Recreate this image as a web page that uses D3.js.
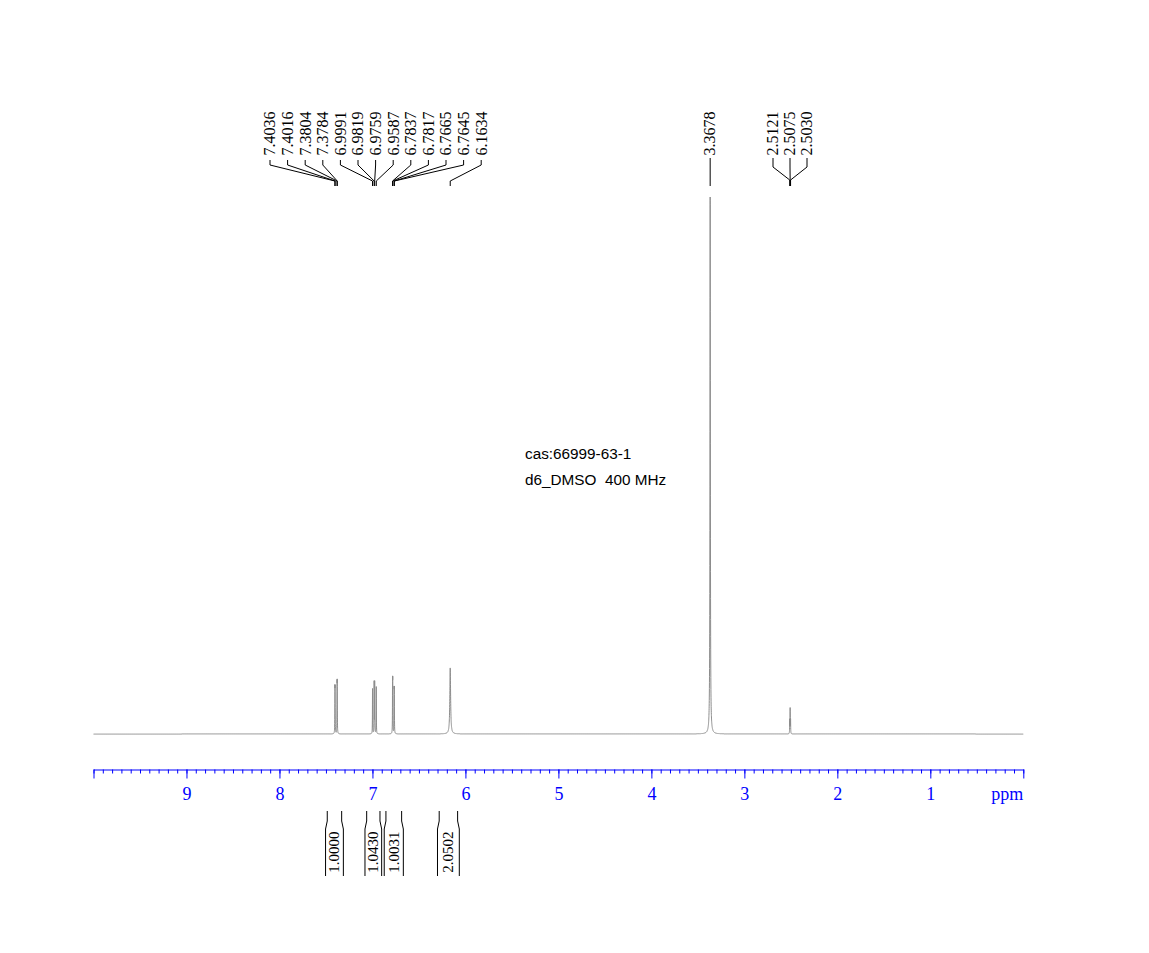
<!DOCTYPE html>
<html><head><meta charset="utf-8">
<script src="https://cdn.jsdelivr.net/npm/d3@7"></script>
<style>body{margin:0;background:#fff}svg{display:block}</style>
</head><body>
<svg id="c" width="1149" height="953"></svg>
<script>
// ---- data ----
const axisDomain = [10, 0];
const majorTicks = [0,1,2,3,4,5,6,7,8,9,10];
const tickLabels = ["","1","2","3","4","5","6","7","8","9",""];
// peak lines: ppm, intensity (% of tallest), half width (ppm)
const peakPpm = [7.4036, 7.4016, 7.3804, 7.3784, 6.9991, 6.9819, 6.9759, 6.9587, 6.7837, 6.7817, 6.7665, 6.7645, 6.1634, 3.3678, 2.5121, 2.5075, 2.5030];
const peakInt = [7.2, 7.2, 8.0, 8.0, 8.4, 9.5, 9.5, 8.75, 8.4, 8.4, 7.0, 7.0, 12.3, 100, 2.5, 4.6, 2.5];
const peakHw  = [0.0012,0.0012,0.0012,0.0012,0.0012,0.0012,0.0012,0.0012,0.0012,0.0012,0.0012,0.0012,0.005,0.0025,0.0012,0.0012,0.0012];
const leftLabels = ["7.4036","7.4016","7.3804","7.3784","6.9991","6.9819","6.9759","6.9587","6.7837","6.7817","6.7665","6.7645","6.1634"];
const rightLabels = ["2.5121","2.5075","2.5030"];
const soloLabel = "3.3678";
const integFrom = [7.486, 7.062, 6.855, 6.282];
const integTo   = [7.331, 6.919, 6.686, 6.084];
const integVal  = ["1.0000","1.0430","1.0031","2.0502"];
const infoLines = ["cas:66999-63-1", "d6_DMSO  400 MHz"];

// ---- scales ----
const svg = d3.select("#c");
const x = d3.scaleLinear().domain(axisDomain).range([93.5, 1023.3]);
const y = d3.scaleLinear().domain([0, 100]).range([734, 197]);

// spectrum samples
const pts = [];
const grid = d3.range(10, -0.00001, -0.0005).concat(peakPpm);
grid.sort((a,b)=>b-a);
grid.forEach(p => {
  let s = 0;
  for (let i = 0; i < peakPpm.length; i++) {
    const d = (p - peakPpm[i]) / peakHw[i];
    s += peakInt[i] / (1 + d*d);
  }
  pts.push([p, s]);
});
svg.append("path")
  .attr("d", d3.line().x(d=>x(d[0])).y(d=>y(d[1]))(pts))
  .attr("fill","none").attr("stroke","#8c8c8c").attr("stroke-width",1);

// ---- axis ----
const axY = 769.5;
const minorVals = d3.range(0, 101).map(i => i/10);
svg.append("g").attr("transform",`translate(0,${axY})`)
  .call(d3.axisBottom(x).tickValues(minorVals).tickSize(4).tickSizeOuter(0).tickFormat(""))
  .call(g=>{g.selectAll("line,path").attr("stroke","#0000ff");});
svg.append("g").attr("transform",`translate(0,${axY})`)
  .call(d3.axisBottom(x).tickValues(majorTicks).tickSize(9).tickSizeOuter(0).tickPadding(9)
        .tickFormat((d,i)=>tickLabels[i]))
  .call(g=>{
    g.select(".domain").remove();
    g.selectAll("line").attr("stroke","#0000ff");
    g.selectAll("text").attr("fill","#0000ff").style("font-family","'Liberation Serif','Times New Roman',serif").style("font-size","18px");
  });
svg.append("text").attr("x", x(0)).attr("y", 800).attr("text-anchor","end")
  .attr("fill","#0000ff").style("font-family","'Liberation Serif',serif").style("font-size","18px").text("ppm");

// ---- peak labels ----
const lab = svg.append("g").style("font-family","'Liberation Serif','Times New Roman',serif").style("font-size","16px");
function vlabel(cx, txt){
  lab.append("text").attr("transform",`translate(${cx+5.3},155.5) rotate(-90)`).text(txt);
}
leftLabels.forEach((t,i)=>{
  const cx = 270 + i*17.6;
  vlabel(cx, t);
  const px = x(+t);
  lab.append("path").attr("d",`M${cx},160V165L${px},181V186`).attr("fill","none").attr("stroke","#000").attr("stroke-width",1);
});
{
  const px = x(+soloLabel);
  vlabel(px, soloLabel);
  lab.append("path").attr("d",`M${px},158V186`).attr("fill","none").attr("stroke","#000");
}
rightLabels.forEach((t,i)=>{
  const cx = 773 + i*17;
  vlabel(cx, t);
  const px = x(+t);
  lab.append("path").attr("d",`M${cx},158V167L${px},180V186`).attr("fill","none").attr("stroke","#000");
});

// ---- integrals ----
const ig = svg.append("g").style("font-family","'Liberation Serif','Times New Roman',serif").style("font-size","15px");
integFrom.forEach((f,i)=>{
  const xl = x(f), xr = x(integTo[i]);
  ig.append("path").attr("d",`M${xl},811V821L${xl-1.7},829V876`).attr("fill","none").attr("stroke","#000");
  ig.append("path").attr("d",`M${xr},811V821L${xr+1.7},829V876`).attr("fill","none").attr("stroke","#000");
  const cx = (xl+xr)/2;
  ig.append("text").attr("transform",`translate(${cx+5},852) rotate(-90)`).attr("text-anchor","middle").text(integVal[i]);
});

// ---- info text ----
svg.selectAll("text.info").data(infoLines).enter().append("text").attr("class","info")
  .attr("x",525).attr("y",(d,i)=>459+i*26)
  .style("white-space","pre")
  .style("font-family","'Liberation Sans',Arial,sans-serif").style("font-size","15.3px").text(d=>d);
</script>
</body></html>
